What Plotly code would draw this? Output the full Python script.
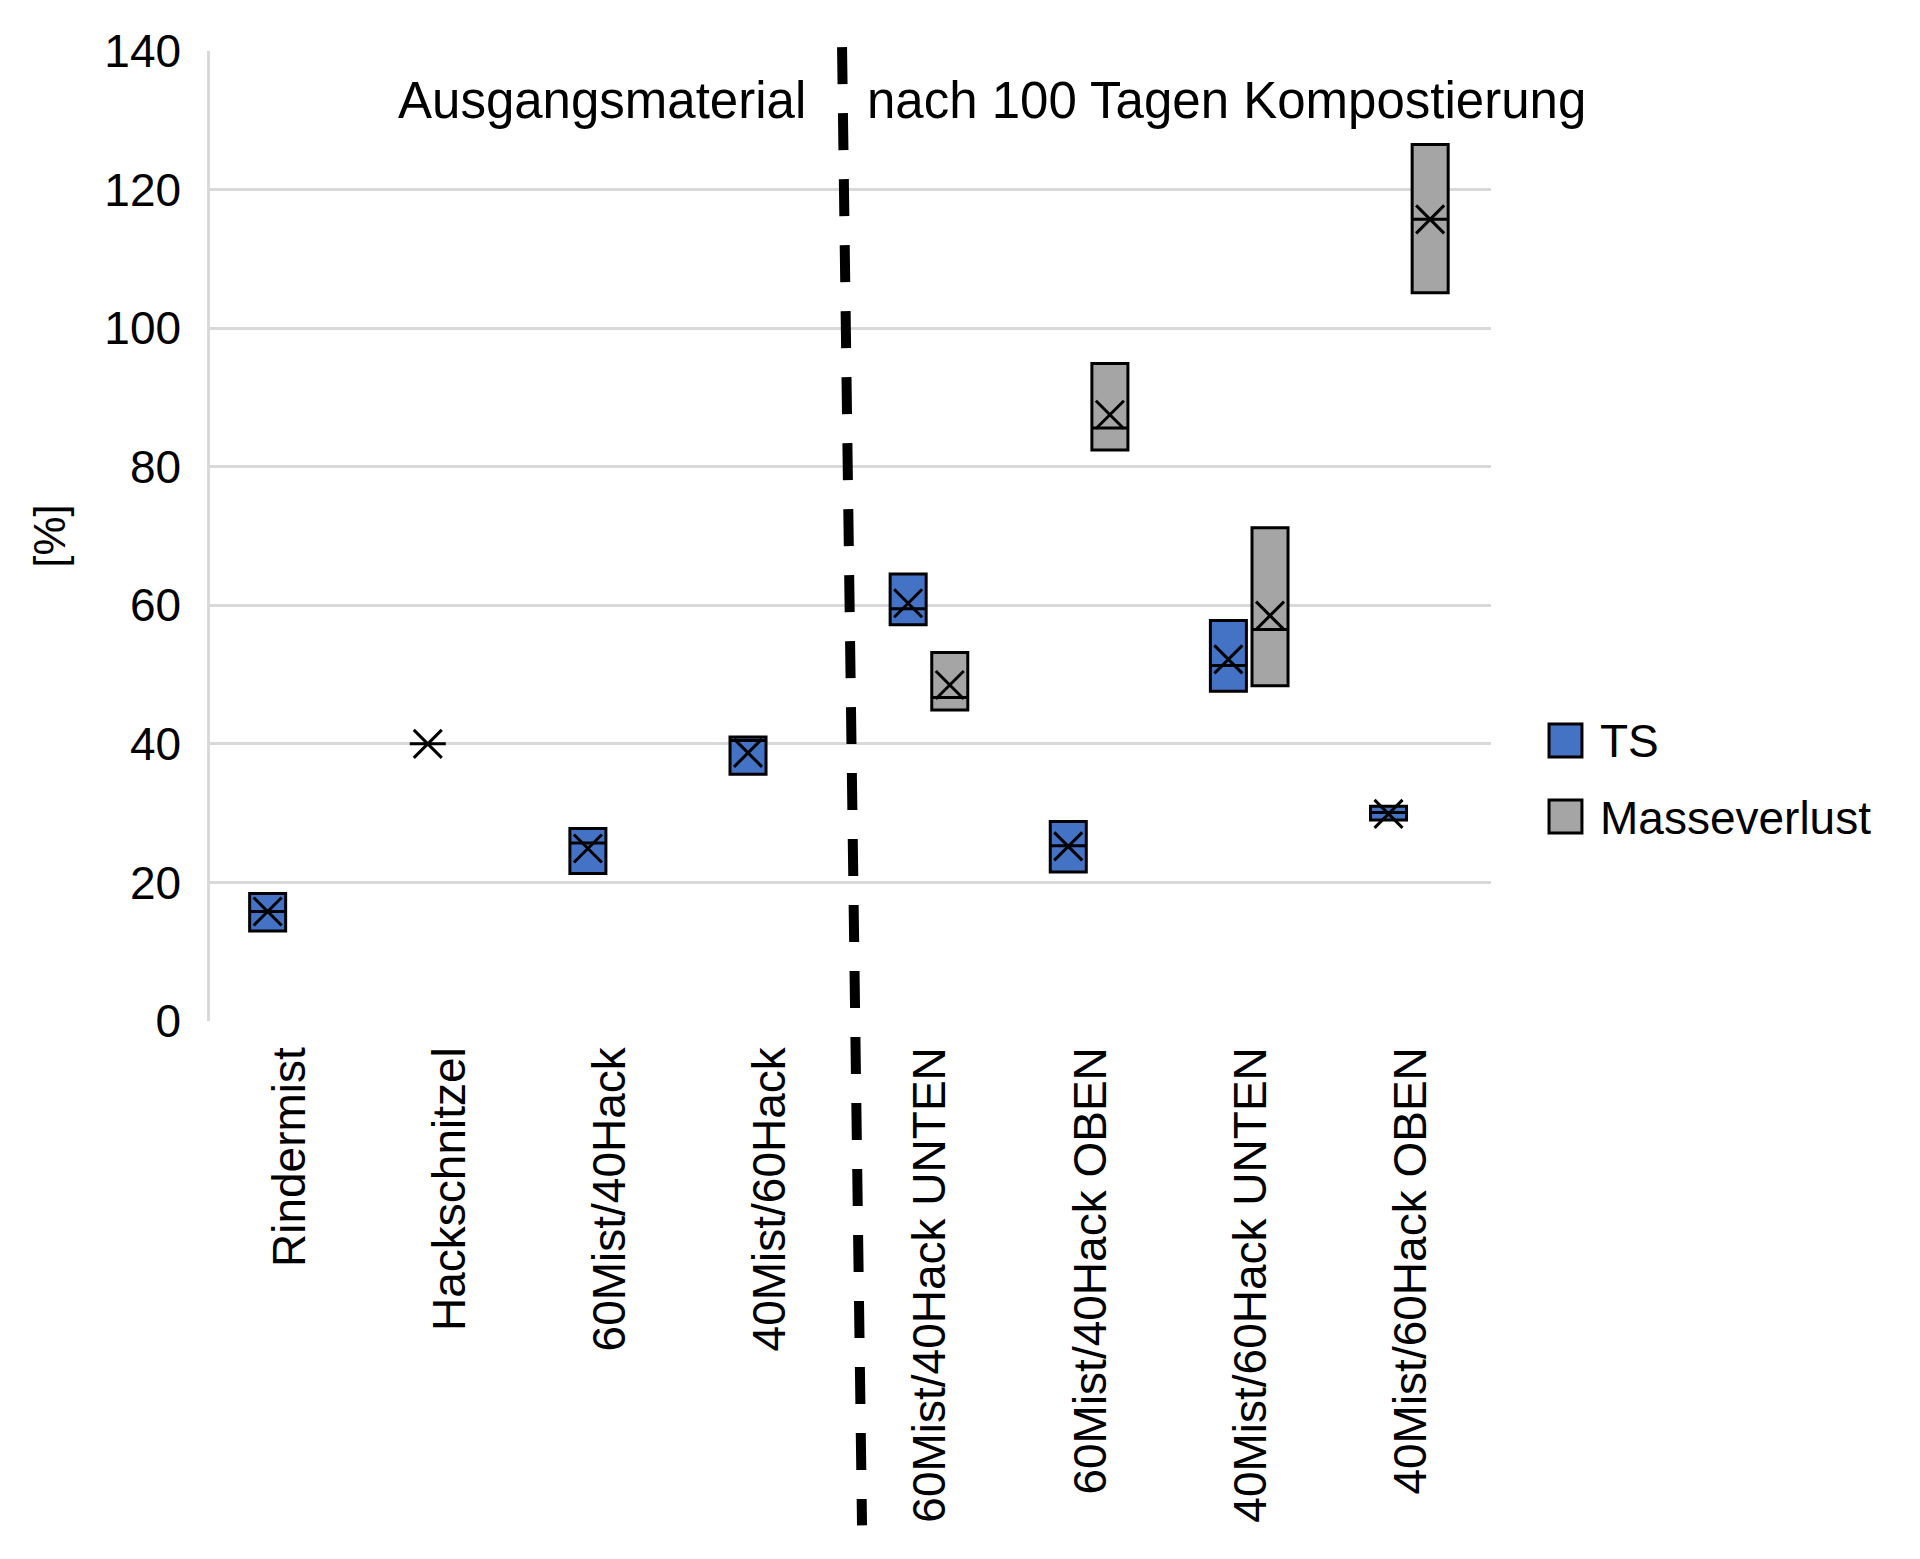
import plotly.graph_objects as go

# ---------------- data ----------------
categories = ["Rindermist", "Hackschnitzel", "60Mist/40Hack", "40Mist/60Hack",
              "60Mist/40Hack UNTEN", "60Mist/40Hack OBEN",
              "40Mist/60Hack UNTEN", "40Mist/60Hack OBEN"]

ts_q1     = [13.0, 40.0, 21.3, 35.6, 57.2, 21.5, 47.6, 29.0]
ts_median = [15.8, 40.0, 25.7, 40.5, 59.5, 25.3, 51.3, 30.1]
ts_q3     = [18.4, 40.0, 27.8, 41.0, 64.5, 28.8, 57.8, 31.0]
ts_mean   = [15.8, 40.0, 24.9, 38.7, 60.3, 25.2, 52.2, 29.9]

mv_categories = ["60Mist/40Hack UNTEN", "60Mist/40Hack OBEN",
                 "40Mist/60Hack UNTEN", "40Mist/60Hack OBEN"]
mv_q1     = [44.9, 82.4, 48.4, 105.1]
mv_median = [46.7, 85.6, 56.5, 115.7]
mv_q3     = [53.2, 94.9, 71.2, 126.5]
mv_mean   = [48.5, 87.5, 58.5, 115.7]

y_ticks = [0, 20, 40, 60, 80, 100, 120, 140]

# ---------------- styling ----------------
FONT = "Liberation Sans, Arial, sans-serif"
BLUE = "#4472C4"
GREY = "#A5A5A5"
GRID = "#D9D9D9"
BOX_W = 0.225
OFF_TS = -0.14
OFF_MV = 0.12

cat_index = {c: i for i, c in enumerate(categories)}
ts_x = [cat_index[c] + OFF_TS for c in categories]
mv_x = [cat_index[c] + OFF_MV for c in mv_categories]

fig = go.Figure()

fig.add_trace(go.Box(
    name="TS", x=ts_x, q1=ts_q1, median=ts_median, q3=ts_q3,
    lowerfence=ts_q1, upperfence=ts_q3,
    width=BOX_W, whiskerwidth=0, fillcolor=BLUE,
    line=dict(color="black", width=3), boxpoints=False, showlegend=False,
    hoverinfo="skip"))
fig.add_trace(go.Box(
    name="Masseverlust", x=mv_x, q1=mv_q1, median=mv_median, q3=mv_q3,
    lowerfence=mv_q1, upperfence=mv_q3,
    width=BOX_W, whiskerwidth=0, fillcolor=GREY,
    line=dict(color="black", width=3), boxpoints=False, showlegend=False,
    hoverinfo="skip"))

for xs, ys in ((ts_x, ts_mean), (mv_x, mv_mean)):
    fig.add_trace(go.Scatter(
        x=xs, y=ys, mode="markers", showlegend=False, hoverinfo="skip",
        marker=dict(symbol="x-thin", size=28, color="black",
                    line=dict(color="black", width=3))))

# dashed separator line
fig.add_shape(type="line", xref="paper", yref="paper",
              x0=0.4934, y0=1.004, x1=0.509, y1=-0.52,
              line=dict(color="black", width=10, dash="37px,29px"))

# section labels
fig.add_annotation(text="Ausgangsmaterial", xref="paper", yref="paper",
                   x=0.4668, y=0.949, xanchor="right", yanchor="middle",
                   showarrow=False, font=dict(family=FONT, size=51, color="black"))
fig.add_annotation(text="nach 100 Tagen Kompostierung", xref="paper", yref="paper",
                   x=0.511, y=0.949, xanchor="left", yanchor="middle",
                   showarrow=False, font=dict(family=FONT, size=51, color="black"))

# manual legend
legend_items = [("TS", BLUE, 0.3062, 0.2722, 0.2887),
                ("Masseverlust", GREY, 0.2278, 0.1938, 0.2093)]
for label, col, y0, y1, yt in legend_items:
    fig.add_shape(type="rect", xref="paper", yref="paper",
                  x0=1.0453, x1=1.0710, y0=y1, y1=y0,
                  fillcolor=col, line=dict(color="black", width=3))
    fig.add_annotation(text=label, xref="paper", yref="paper",
                       x=1.0835, y=yt, xanchor="left", yanchor="middle",
                       showarrow=False, font=dict(family=FONT, size=46, color="black"))

fig.update_layout(
    width=1920, height=1559,
    margin=dict(l=210, r=429, t=51, b=538),
    plot_bgcolor="white", paper_bgcolor="white",
    font=dict(family=FONT, color="black"),
    showlegend=False,
)
fig.update_xaxes(
    range=[-0.5, 7.5], tickmode="array",
    tickvals=list(range(len(categories))), ticktext=categories,
    tickangle=-90, showgrid=False, zeroline=False, showline=False,
    ticks="", ticklabelstandoff=16,
    tickfont=dict(family=FONT, size=46, color="black"))
fig.update_yaxes(
    range=[0, 140], tickmode="array", tickvals=y_ticks,
    showgrid=True, gridcolor=GRID, gridwidth=2.5, zeroline=False,
    showline=True, linecolor=GRID, linewidth=2.5,
    ticks="", ticklabelstandoff=17,
    tickfont=dict(family=FONT, size=46, color="black"),
    title=dict(text="[%]", standoff=25, font=dict(family=FONT, size=44, color="black")))

fig.write_html("out.html", config={"displayModeBar": False},
               post_script="document.body.style.margin='0px';")
